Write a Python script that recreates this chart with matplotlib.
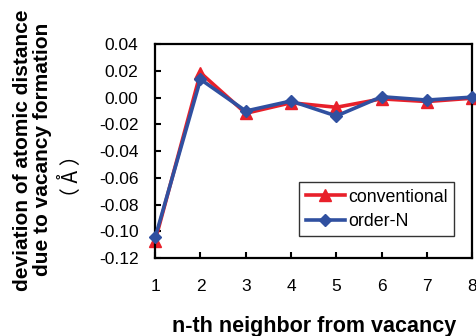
import matplotlib
matplotlib.use("Agg")
import matplotlib.pyplot as plt

plt.rcParams['font.family'] = ['Liberation Sans', 'Noto Sans CJK JP', 'DejaVu Sans']

neighbor = [1, 2, 3, 4, 5, 6, 7, 8]
conventional = [-0.107, 0.0185, -0.0118, -0.0039, -0.0073, -0.001, -0.003, -0.0005]
order_n = [-0.1046, 0.0136, -0.0101, -0.0026, -0.0138, 0.0006, -0.0019, 0.0003]

red = '#e8202a'
blue = '#3050a0'

fig = plt.figure(figsize=(4.76, 3.36), dpi=100)
ax = fig.add_axes([0.326, 0.232, 0.666, 0.637])

ax.plot(neighbor, conventional, color=red, lw=2.6, marker='^', ms=8,
        label='conventional', clip_on=False, zorder=2)
ax.plot(neighbor, order_n, color=blue, lw=2.6, marker='D', ms=6.5,
        label='order-N', clip_on=False, zorder=3)

ax.set_xlim(1, 8)
ax.set_ylim(-0.12, 0.04)
ax.set_yticks([-0.12, -0.10, -0.08, -0.06, -0.04, -0.02, 0.00, 0.02, 0.04])
ax.set_yticklabels(['%.2f' % v for v in ax.get_yticks()])
ax.set_xticks(neighbor)
ax.tick_params(direction='in', length=4, width=1.5, labelsize=12.5, colors='black')
ax.tick_params(axis='x', pad=15)
ax.tick_params(axis='y', pad=12)
for s in ax.spines.values():
    s.set_linewidth(1.6)

ax.set_xlabel('n-th neighbor from vacancy', fontsize=15.5, fontweight='bold', labelpad=16)
fig.text(0.068, 0.554, 'deviation of atomic distance\ndue to vacancy formation',
         rotation=90, ha='center', va='center', fontsize=15, fontweight='bold',
         linespacing=1.08)
fig.text(0.151, 0.476, '（ Å ）', rotation=90, ha='center', va='center', fontsize=15,
         family=['Noto Sans CJK JP', 'Liberation Sans'])

leg = ax.legend(loc='lower right', bbox_to_anchor=(0.943, 0.103), borderaxespad=0,
                fontsize=12.8, frameon=True, fancybox=False, edgecolor='black',
                handlelength=2.2, handletextpad=0.2, borderpad=0.35, labelspacing=0.4)
leg.get_frame().set_linewidth(1.0)

fig.savefig('out.png', dpi=100)
